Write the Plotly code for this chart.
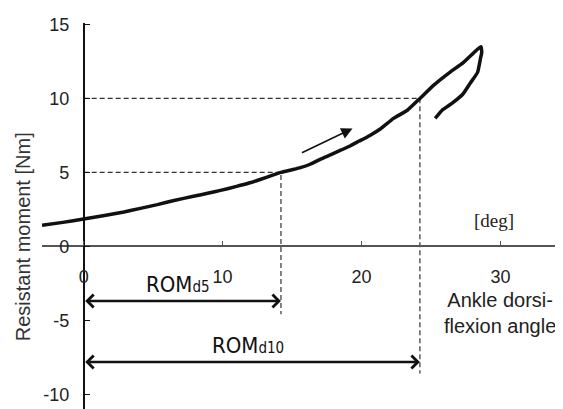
import plotly.graph_objects as go

# ---- data ----
loading_x = [-3.0, -1.5, 0.0, 1.5, 2.9, 4.0, 5.3, 6.5, 7.9, 9.0, 9.85, 11.0, 11.9, 12.7,
             13.5, 14.2, 15.0, 15.6, 16.3, 17.05, 17.8, 18.5, 19.2, 19.8, 20.6, 21.4,
             22.3, 23.3, 24.2, 25.2, 26.4, 27.3, 28.2, 28.6]
loading_y = [1.42, 1.62, 1.85, 2.08, 2.32, 2.55, 2.82, 3.1, 3.38, 3.6, 3.78, 4.05, 4.28, 4.52,
             4.78, 5.0, 5.18, 5.32, 5.55, 5.9, 6.2, 6.5, 6.8, 7.1, 7.5, 7.97,
             8.65, 9.2, 10.0, 10.9, 11.8, 12.4, 13.2, 13.5]
unloading_x = [28.6, 28.65, 28.56, 28.35, 27.8, 27.3, 26.5, 25.8, 25.3]
unloading_y = [13.5, 13.1, 12.7, 11.76, 11.0, 10.3, 9.66, 9.2, 8.65]

thresholds = [5, 10]          # Nm
rom_values = [14.2, 24.2]     # deg
rom_labels = ["ROM<span style='font-size:15px'>d5</span>",
              "ROM<span style='font-size:15px'>d10</span>"]
rom_arrow_y = [-3.7, -7.82]
rom_dash_bottom = [-4.6, -8.6]

x_ticks = [0, 10, 20, 30]
x_ticktext = ["0", "10", "20", "30"]
y_ticks = [-10, -5, 0, 5, 10, 15]
y_ticktext = ["-10", "-5", "0", "5", "10", "15"]

X_RANGE = [-3, 34.5]
Y_RANGE = [-11.0, 15.1]

fig = go.Figure()

# dashed reference lines
for t, r, yb in zip(thresholds, rom_values, rom_dash_bottom):
    fig.add_trace(go.Scatter(x=[0, r, r], y=[t, t, yb], mode="lines",
                             line=dict(color="#333333", width=1.2, dash="5px,3px"),
                             hoverinfo="skip", showlegend=False))

# curve
fig.add_trace(go.Scatter(x=loading_x + unloading_x[1:], y=loading_y + unloading_y[1:],
                         mode="lines", line=dict(color="#111111", width=3.5, shape="spline", smoothing=0.4),
                         showlegend=False))

# ROM arrows and labels
for r, ay, lab in zip(rom_values, rom_arrow_y, rom_labels):
    fig.add_annotation(x=r, y=ay, ax=0, ay=ay, xref="x", yref="y", axref="x", ayref="y",
                       text="", showarrow=True, arrowhead=4, startarrowhead=4,
                       arrowside="end+start", arrowwidth=2.5, arrowsize=1, startarrowsize=1,
                       arrowcolor="#111111")
    fig.add_annotation(x=r / 2 - 0.3, y=ay, xref="x", yref="y", text=lab, showarrow=False,
                       yanchor="bottom", yshift=2,
                       font=dict(family="DejaVu Sans Condensed, Liberation Sans Narrow, Arial Narrow, sans-serif",
                                 size=22, color="#111111"))

# direction arrow
fig.add_annotation(x=19.35, y=7.97, ax=15.6, ay=6.28, xref="x", yref="y", axref="x", ayref="y",
                   text="", showarrow=True, arrowhead=2, arrowwidth=1.5, arrowsize=1.5,
                   arrowcolor="#111111")

# texts
fig.add_annotation(x=29.5, y=1.72, xref="x", yref="y", text="[deg]", showarrow=False,
                   font=dict(family="Liberation Serif, DejaVu Serif, serif", size=19, color="#222222"))
fig.add_annotation(x=30.0, y=-4.54, xref="x", yref="y", text="Ankle dorsi-<br>flexion angle",
                   showarrow=False, align="center",
                   font=dict(family="Liberation Sans, Arial, sans-serif", size=20, color="#222222"))
fig.add_annotation(x=-0.036, y=0.4456, xref="paper", yref="paper", text="Resistant moment [Nm]",
                   textangle=-90, showarrow=False, xanchor="center", yanchor="middle",
                   font=dict(family="Liberation Sans, Arial, sans-serif", size=20, color="#333333"))

xpos = (0 - Y_RANGE[0]) / (Y_RANGE[1] - Y_RANGE[0])
ypos = (0 - X_RANGE[0]) / (X_RANGE[1] - X_RANGE[0])

# page body has an 8px default margin, so the figure is sized/offset to compensate
fig.update_layout(
    width=555, height=401,
    margin=dict(l=34, r=0, t=15, b=0),
    paper_bgcolor="white", plot_bgcolor="white",
    font=dict(family="Liberation Sans, Arial, sans-serif", color="#222222"),
    xaxis=dict(range=X_RANGE, anchor="free", position=xpos, showline=True, linecolor="#555555",
               linewidth=1.5, ticks="inside", ticklen=5, tickcolor="#555555", tickwidth=1.2,
               tickvals=x_ticks, ticktext=x_ticktext, showgrid=False, zeroline=False,
               tickfont=dict(size=18, color="#222222"), ticklabelstandoff=14),
    yaxis=dict(range=Y_RANGE, anchor="free", position=ypos, showline=True, linecolor="#111111",
               linewidth=1.5, ticks="inside", ticklen=6, tickcolor="#111111", tickwidth=1.2,
               tickvals=y_ticks, ticktext=y_ticktext, showgrid=False, zeroline=False,
               tickfont=dict(size=18, color="#222222"), ticklabelstandoff=10),
)

fig.write_html("out.html")
